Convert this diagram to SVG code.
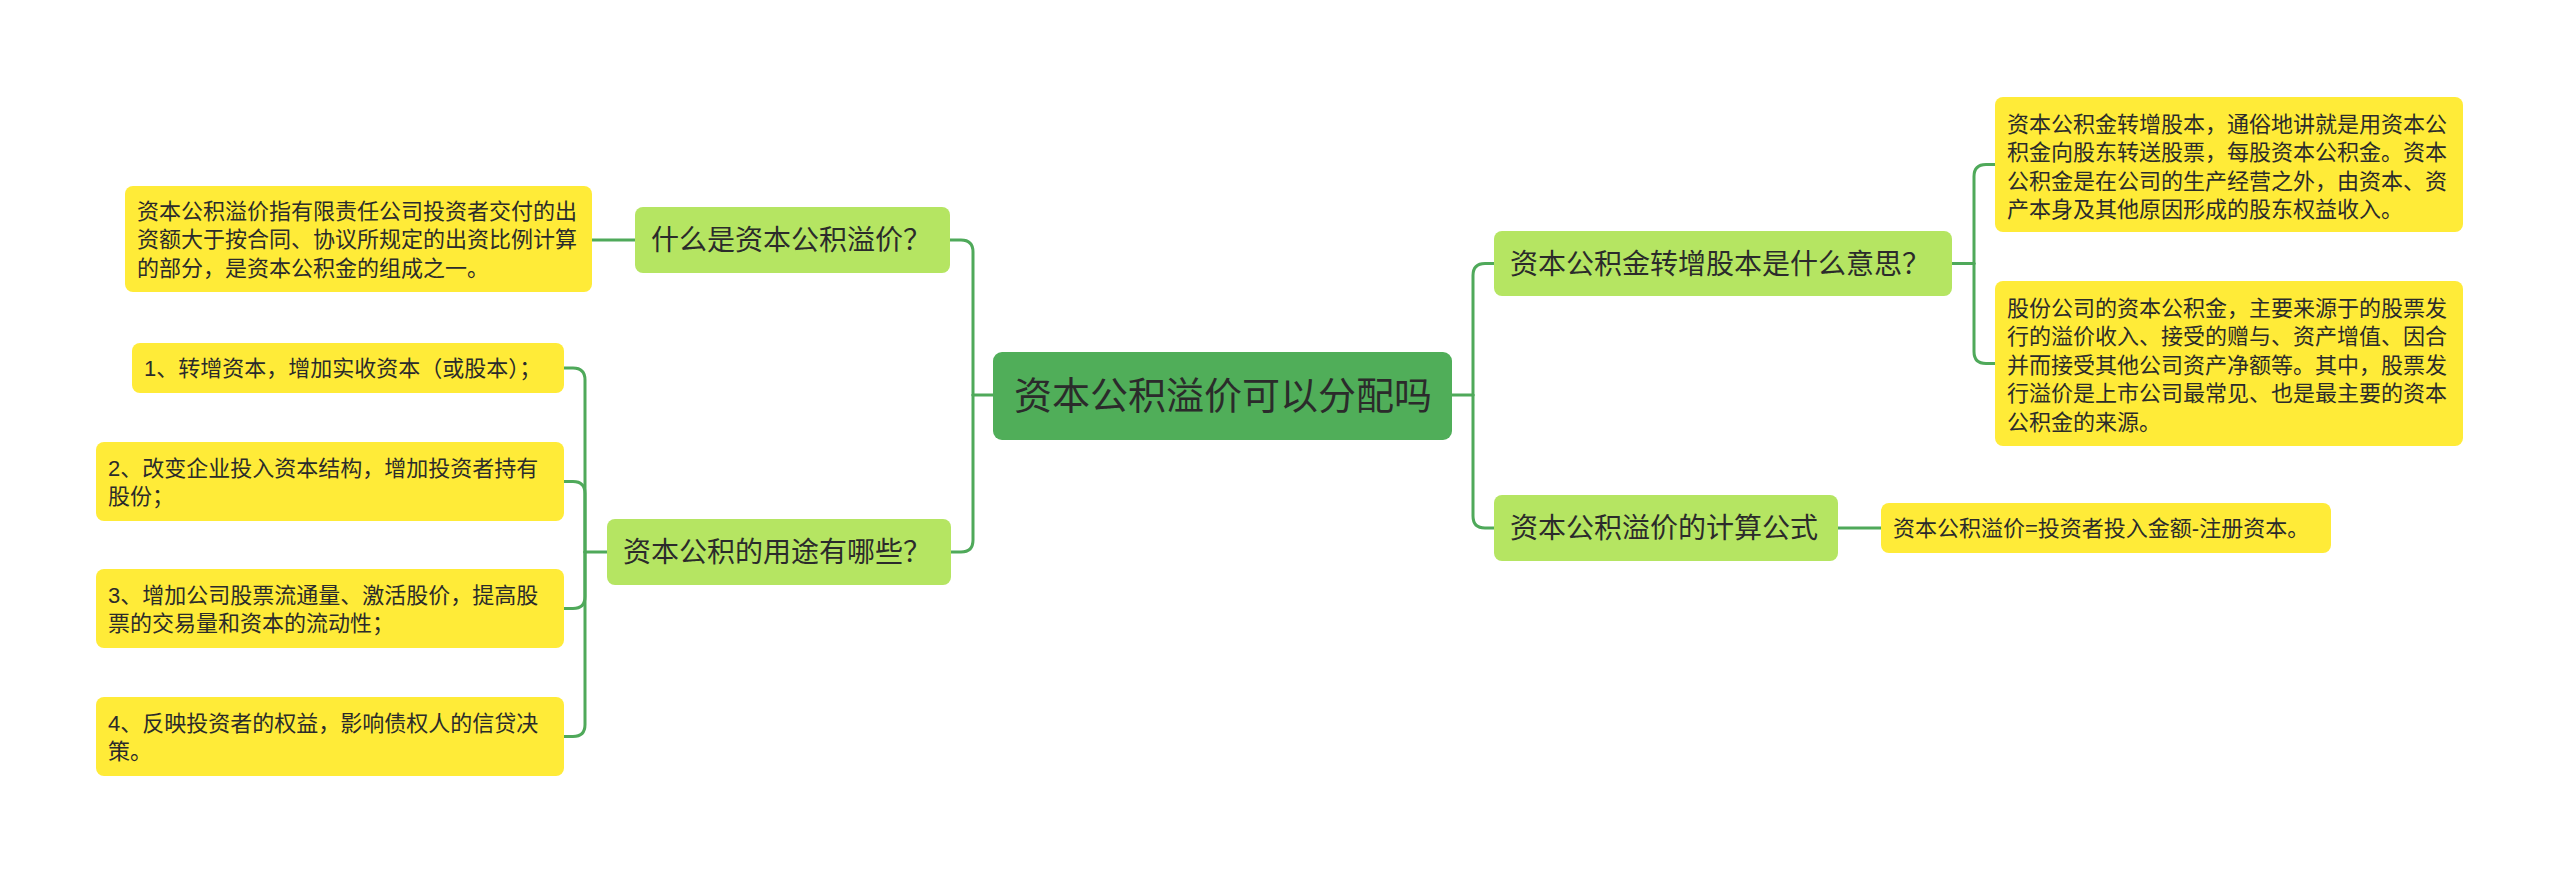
<svg xmlns="http://www.w3.org/2000/svg" width="2560" height="872" viewBox="0 0 2560 872">
<style>
text{font-family:"Liberation Sans","Noto Sans CJK SC",sans-serif;fill:#2b2b2b}
.root{fill:#50AE59}
.l1{fill:#B5E562}
.l2{fill:#FFEB38}
.t0{font-size:38px}
.t1{font-size:28px}
.t2{font-size:22px}
.c{fill:none;stroke:#4FA95A;stroke-width:3;stroke-linecap:round}
</style>
<rect width="2560" height="872" fill="#ffffff"/>
<g id="connectors">
<path class="c" d="M1452 395 H1473"/>
<path class="c" d="M1473 395 V275.5 Q1473 263.5 1485 263.5 H1494"/>
<path class="c" d="M1473 395 V516 Q1473 528 1485 528 H1494"/>
<path class="c" d="M1952 263.5 H1974"/>
<path class="c" d="M1974 263.5 V176.5 Q1974 164.5 1986 164.5 H1995"/>
<path class="c" d="M1974 263.5 V351.5 Q1974 363.5 1986 363.5 H1995"/>
<path class="c" d="M1838 528 H1881"/>
<path class="c" d="M993 395 H973"/>
<path class="c" d="M973 395 V252 Q973 240 961 240 H950"/>
<path class="c" d="M973 395 V540 Q973 552 961 552 H951"/>
<path class="c" d="M635 240 H592"/>
<path class="c" d="M607 552 H585"/>
<path class="c" d="M585 552 V380 Q585 368 573 368 H564"/>
<path class="c" d="M585 552 V493.5 Q585 481.5 573 481.5 H564"/>
<path class="c" d="M585 552 V596.5 Q585 608.5 573 608.5 H564"/>
<path class="c" d="M585 552 V724.5 Q585 736.5 573 736.5 H564"/>
</g>
<g id="root">
<rect class="root" x="993" y="352" width="459" height="88" rx="9"/>
<text class="t0" x="1014" y="409">资本公积溢价可以分配吗</text>
</g>
<g id="q1">
<rect class="l1" x="635" y="207" width="315" height="66" rx="8"/>
<text class="t1" x="651" y="250">什么是资本公积溢价？</text>
</g>
<g id="q1a">
<rect class="l2" x="125" y="186" width="467" height="106" rx="8"/>
<text class="t2" x="137" y="218.5">资本公积溢价指有限责任公司投资者交付的出</text>
<text class="t2" x="137" y="247">资额大于按合同、协议所规定的出资比例计算</text>
<text class="t2" x="137" y="275.5">的部分，是资本公积金的组成之一。</text>
</g>
<g id="q2">
<rect class="l1" x="607" y="519" width="344" height="66" rx="8"/>
<text class="t1" x="623" y="562">资本公积的用途有哪些？</text>
</g>
<g id="q2a">
<rect class="l2" x="132" y="343" width="432" height="50" rx="8"/>
<text class="t2" x="144" y="376">1、转增资本，增加实收资本（或股本）；</text>
</g>
<g id="q2b">
<rect class="l2" x="96" y="442" width="468" height="79" rx="8"/>
<text class="t2" x="108" y="475.5">2、改变企业投入资本结构，增加投资者持有</text>
<text class="t2" x="108" y="504">股份；</text>
</g>
<g id="q2c">
<rect class="l2" x="96" y="569" width="468" height="79" rx="8"/>
<text class="t2" x="108" y="602.5">3、增加公司股票流通量、激活股价，提高股</text>
<text class="t2" x="108" y="631">票的交易量和资本的流动性；</text>
</g>
<g id="q2d">
<rect class="l2" x="96" y="697" width="468" height="79" rx="8"/>
<text class="t2" x="108" y="730.5">4、反映投资者的权益，影响债权人的信贷决</text>
<text class="t2" x="108" y="759">策。</text>
</g>
<g id="q3">
<rect class="l1" x="1494" y="231" width="458" height="65" rx="8"/>
<text class="t1" x="1510" y="273.5">资本公积金转增股本是什么意思？</text>
</g>
<g id="q3a">
<rect class="l2" x="1995" y="97" width="468" height="135" rx="8"/>
<text class="t2" x="2007" y="131.5">资本公积金转增股本，通俗地讲就是用资本公</text>
<text class="t2" x="2007" y="160">积金向股东转送股票，每股资本公积金。资本</text>
<text class="t2" x="2007" y="188.5">公积金是在公司的生产经营之外，由资本、资</text>
<text class="t2" x="2007" y="217">产本身及其他原因形成的股东权益收入。</text>
</g>
<g id="q3b">
<rect class="l2" x="1995" y="281" width="468" height="165" rx="8"/>
<text class="t2" x="2007" y="315.5">股份公司的资本公积金，主要来源于的股票发</text>
<text class="t2" x="2007" y="344">行的溢价收入、接受的赠与、资产增值、因合</text>
<text class="t2" x="2007" y="372.5">并而接受其他公司资产净额等。其中，股票发</text>
<text class="t2" x="2007" y="401">行溢价是上市公司最常见、也是最主要的资本</text>
<text class="t2" x="2007" y="429.5">公积金的来源。</text>
</g>
<g id="q4">
<rect class="l1" x="1494" y="495" width="344" height="66" rx="8"/>
<text class="t1" x="1510" y="538">资本公积溢价的计算公式</text>
</g>
<g id="q4a">
<rect class="l2" x="1881" y="503" width="450" height="50" rx="8"/>
<text class="t2" x="1893" y="536">资本公积溢价=投资者投入金额-注册资本。</text>
</g>
</svg>
